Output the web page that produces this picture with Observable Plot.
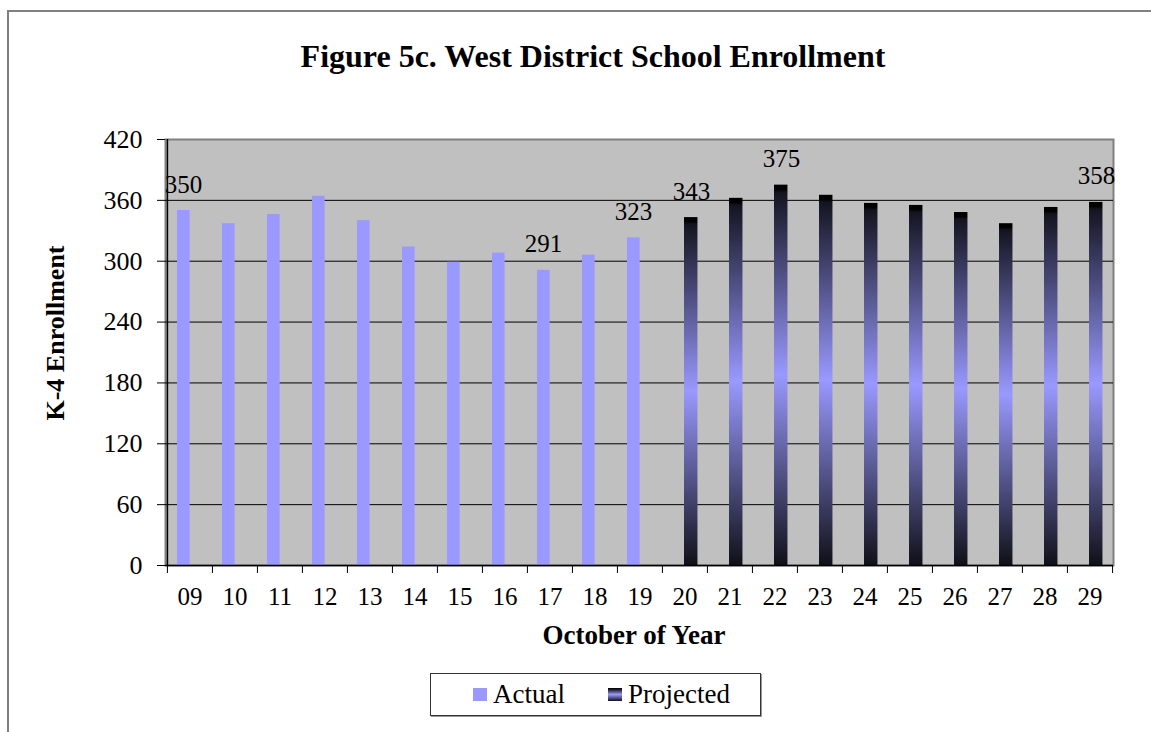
<!DOCTYPE html>
<html>
<head>
<meta charset="utf-8">
<script src="https://cdn.jsdelivr.net/npm/d3@7"></script>
<script src="https://cdn.jsdelivr.net/npm/@observablehq/plot@0.6"></script>
<style>
  body { margin: 0; background: #fff; }
  #wrap { position: relative; width: 1151px; height: 732px; overflow: hidden; font-family: "Liberation Serif", "Times New Roman", serif; color: #000; }
  #border { position: absolute; left: 7px; top: 10px; width: 1300px; height: 900px; border-left: 2px solid #808080; border-top: 2px solid #808080; }
  #title { position: absolute; left: 0; top: 38px; width: 1186px; text-align: center; font-weight: bold; font-size: 32px; line-height: 36px; }
  #chart { position: absolute; left: 0; top: 0; }
  #ytitle { position: absolute; left: 56px; top: 333px; transform: translate(-50%, -50%) rotate(-90deg); font-weight: bold; font-size: 26px; white-space: nowrap; }
  #xtitle { position: absolute; left: 634px; top: 620px; transform: translateX(-50%); font-weight: bold; font-size: 27px; white-space: nowrap; line-height: 30px; }
  #legend { position: absolute; left: 430px; top: 673px; width: 331px; height: 43px; box-sizing: border-box; border: 1px solid #333; box-shadow: 1px 1px 0 #999; display: flex; align-items: center; justify-content: flex-start; padding-left: 42px; gap: 43px; font-size: 27px; }
  .item { display: flex; align-items: center; }
  .sw { width: 14px; height: 13px; margin-right: 6px; }
</style>
</head>
<body>
<div id="wrap">
  <div id="border"></div>
  <div id="title">Figure 5c. West District School Enrollment</div>
  <div id="chart"></div>
  <div id="ytitle">K-4 Enrollment</div>
  <div id="xtitle">October of Year</div>
  <div id="legend"></div>
</div>
<script>
// ---- Data ----
const actualYears = ["09", "10", "11", "12", "13", "14", "15", "16", "17", "18", "19"];
const actualValues = [350, 337, 346, 364, 340, 314, 299, 308, 291, 306, 323];
const projectedYears = ["20", "21", "22", "23", "24", "25", "26", "27", "28", "29"];
const projectedValues = [343, 362, 375, 365, 357, 355, 348, 337, 353, 358];
const labeledYears = ["09", "17", "19", "20", "22", "29"];
const yTicks = [0, 60, 120, 180, 240, 300, 360, 420];
const seriesNames = ["Actual", "Projected"];

// ---- Build table ----
const years = actualYears.concat(projectedYears);
const actualRows = actualYears.map((year, i) => ({year, value: actualValues[i], series: "Actual"}));
const projectedRows = projectedYears.map((year, i) => ({year, value: projectedValues[i], series: "Projected"}));
const actualLabels = actualRows.filter(d => labeledYears.includes(d.year));
const projectedLabels = projectedRows.filter(d => labeledYears.includes(d.year));

const W = 1151, H = 660;
const mL = 165, mR = 38, mT = 139, mB = 95;
const bw = (W - mL - mR) / years.length;

const actualColor = "#9999ff";

const chart = Plot.plot({
  width: W,
  height: H,
  marginLeft: mL,
  marginRight: mR,
  marginTop: mT,
  marginBottom: mB,
  style: { fontFamily: '"Liberation Serif", "Times New Roman", serif', fontSize: "26px", color: "#000", background: "transparent", overflow: "visible" },
  x: { domain: years, padding: 0, label: null },
  y: { domain: [0, 420], label: null },
  marks: [
    Plot.frame({ fill: "#c0c0c0", stroke: "#808080", strokeWidth: 2 }),
    Plot.ruleY(yTicks.filter(t => t > 0 && t < 420), { stroke: "#000", strokeWidth: 1 }),
    Plot.barY(actualRows, { x: "year", y: "value", fill: actualColor, insetLeft: 10, insetRight: bw - 22.8 }),
    Plot.barY(projectedRows, { x: "year", y: "value", fill: "url(#projGrad)", insetLeft: 22, insetRight: bw - 35.6 }),
    Plot.ruleY([0], { stroke: "#000", strokeWidth: 1.5 }),
    Plot.ruleX([years[0]], { dx: -bw / 2, stroke: "#000", strokeWidth: 1.5 }),
    // category boundary ticks below the axis
    Plot.ruleX(years, { x: d => d, dx: -bw / 2, y1: 0, y2: 0, insetBottom: -8, stroke: "#000" }),
    Plot.ruleX([years[years.length - 1]], { dx: bw / 2, y1: 0, y2: 0, insetBottom: -8, stroke: "#000" }),
    Plot.axisY({ ticks: yTicks, tickSize: 8, tickPadding: 15, tickFormat: d => String(d), fontSize: 26, stroke: "#000" }),
    Plot.axisX({ tickSize: 0, tickPadding: 22, fontSize: 25 }),
    Plot.text(actualLabels, {
      x: "year", y: "value", text: d => String(d.value),
      dx: -6.5, dy: -18, lineAnchor: "bottom", textAnchor: "middle", fontSize: 25, fill: "#000"
    }),
    Plot.text(projectedLabels, {
      x: "year", y: "value", text: d => String(d.value),
      dx: 6.5, dy: -18, lineAnchor: "bottom", textAnchor: "middle", fontSize: 25, fill: "#000"
    })
  ]
});

// vertical gradient for projected bars
const defs = d3.select(chart).insert("defs", ":first-child");
const grad = defs.append("linearGradient").attr("id", "projGrad").attr("x1", 0).attr("y1", 0).attr("x2", 0).attr("y2", 1);
[[0, "#000000"], [0.012, "#000000"], [0.02, "#141420"], [0.5, "#9999ff"], [1, "#101018"]].forEach(([o, c]) => {
  grad.append("stop").attr("offset", o).attr("stop-color", c);
});

document.getElementById("chart").appendChild(chart);

// legend
const legend = document.getElementById("legend");
seriesNames.forEach(name => {
  const item = document.createElement("div");
  item.className = "item";
  const sw = document.createElement("div");
  sw.className = "sw";
  sw.style.background = name === "Actual" ? actualColor : "linear-gradient(#000 0%, #141420 10%, #9999ff 50%, #101018 100%)";
  const lab = document.createElement("span");
  lab.textContent = name;
  item.appendChild(sw);
  item.appendChild(lab);
  legend.appendChild(item);
});
</script>
</body>
</html>
